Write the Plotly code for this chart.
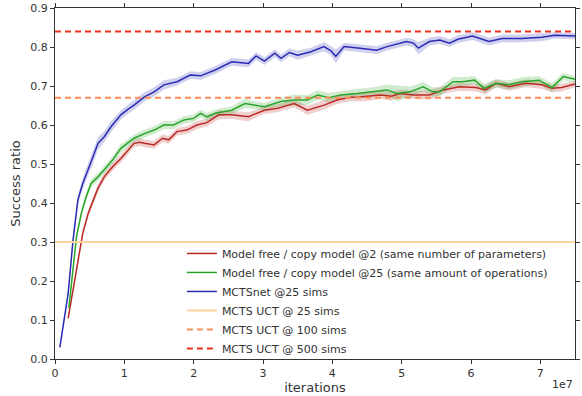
import plotly.graph_objects as go

# x values in units of 1e7 iterations
red_x = [0.19,0.26,0.33,0.40,0.48,0.55,0.62,0.71,0.83,0.95,1.05,1.14,1.22,1.29,1.43,1.55,1.64,1.76,1.90,2.05,2.19,2.36,2.55,2.79,2.88,3.02,3.21,3.45,3.64,3.88,4.07,4.26,4.40,4.55,4.69,4.85,4.98,5.17,5.40,5.60,5.83,6.07,6.21,6.36,6.55,6.79,7.02,7.17,7.31,7.50]
red_y = [0.104,0.177,0.254,0.322,0.374,0.408,0.438,0.467,0.493,0.514,0.536,0.553,0.556,0.553,0.549,0.566,0.562,0.583,0.587,0.600,0.606,0.626,0.626,0.621,0.628,0.638,0.643,0.655,0.638,0.651,0.664,0.671,0.672,0.674,0.677,0.674,0.681,0.677,0.677,0.690,0.698,0.696,0.690,0.707,0.698,0.707,0.703,0.694,0.696,0.705]
red_sd = [0.004,0.006,0.008,0.009,0.010,0.010,0.010,0.010,0.010,0.010,0.010,0.010,0.010,0.010,0.010,0.010,0.010,0.010,0.010,0.010,0.010,0.012,0.010,0.012,0.010,0.010,0.010,0.010,0.012,0.012,0.010,0.010,0.012,0.012,0.010,0.012,0.010,0.010,0.012,0.010,0.010,0.010,0.012,0.010,0.010,0.010,0.010,0.010,0.010,0.008]

green_x = [0.20,0.26,0.31,0.38,0.45,0.52,0.62,0.71,0.83,0.95,1.02,1.14,1.29,1.43,1.57,1.71,1.86,2.00,2.10,2.19,2.31,2.55,2.74,2.88,3.02,3.26,3.45,3.64,3.79,3.95,4.12,4.36,4.60,4.79,4.93,5.12,5.31,5.45,5.55,5.74,5.88,6.05,6.19,6.36,6.55,6.74,6.98,7.17,7.33,7.50]
green_y = [0.130,0.237,0.314,0.374,0.416,0.450,0.467,0.485,0.510,0.540,0.549,0.566,0.578,0.587,0.600,0.600,0.613,0.617,0.630,0.621,0.630,0.638,0.655,0.651,0.647,0.660,0.664,0.664,0.677,0.670,0.677,0.681,0.685,0.690,0.681,0.685,0.698,0.685,0.685,0.711,0.711,0.715,0.694,0.707,0.703,0.711,0.715,0.696,0.724,0.717]
green_sd = [0.004,0.006,0.008,0.009,0.010,0.010,0.010,0.010,0.010,0.012,0.010,0.010,0.010,0.010,0.010,0.010,0.010,0.010,0.010,0.010,0.010,0.010,0.012,0.010,0.010,0.010,0.014,0.012,0.012,0.012,0.010,0.012,0.012,0.014,0.020,0.014,0.012,0.012,0.012,0.012,0.012,0.010,0.012,0.010,0.012,0.012,0.010,0.012,0.010,0.008]

blue_x = [0.07,0.19,0.26,0.33,0.40,0.48,0.55,0.62,0.71,0.81,0.95,1.05,1.14,1.29,1.43,1.57,1.76,1.95,2.10,2.31,2.55,2.79,2.90,3.02,3.17,3.26,3.38,3.50,3.69,3.88,3.98,4.05,4.17,4.40,4.64,4.79,5.07,5.17,5.24,5.40,5.55,5.69,5.81,6.02,6.15,6.26,6.45,6.74,7.02,7.21,7.50]
blue_y = [0.030,0.168,0.305,0.408,0.450,0.485,0.519,0.553,0.570,0.596,0.626,0.640,0.651,0.672,0.685,0.703,0.711,0.728,0.726,0.741,0.762,0.758,0.777,0.764,0.784,0.771,0.786,0.779,0.788,0.801,0.790,0.776,0.801,0.797,0.792,0.801,0.814,0.810,0.797,0.814,0.818,0.810,0.820,0.828,0.820,0.814,0.822,0.822,0.825,0.830,0.828]
blue_sd = [0.004,0.008,0.010,0.012,0.014,0.016,0.018,0.016,0.014,0.014,0.012,0.012,0.012,0.012,0.012,0.012,0.010,0.010,0.010,0.010,0.010,0.010,0.010,0.010,0.010,0.010,0.010,0.012,0.010,0.012,0.012,0.018,0.010,0.010,0.010,0.010,0.010,0.010,0.016,0.010,0.010,0.010,0.010,0.010,0.010,0.010,0.010,0.010,0.010,0.008,0.008]

baseline_x = [0.0, 7.5]
uct25 = 0.30
uct100 = 0.67
uct500 = 0.84

x_ticks = [0, 1, 2, 3, 4, 5, 6, 7]
y_ticks = [0.0, 0.1, 0.2, 0.3, 0.4, 0.5, 0.6, 0.7, 0.8, 0.9]

RED = "#bb2a25"
GREEN = "#2aa52a"
BLUE = "#2b2bb5"
BAND = {RED: "rgba(187,42,37,0.22)", GREEN: "rgba(42,165,42,0.22)", BLUE: "rgba(43,43,181,0.22)"}

fig = go.Figure()

def add_band(xs, ys, sd, color):
    lo = [y - s for y, s in zip(ys, sd)]
    hi = [y + s for y, s in zip(ys, sd)]
    fig.add_trace(go.Scatter(x=xs, y=lo, mode="lines", line=dict(width=0), showlegend=False, hoverinfo="skip"))
    fig.add_trace(go.Scatter(x=xs, y=hi, mode="lines", line=dict(width=0), fill="tonexty",
                             fillcolor=BAND[color], showlegend=False, hoverinfo="skip"))

add_band(red_x, red_y, red_sd, RED)
add_band(green_x, green_y, green_sd, GREEN)
add_band(blue_x, blue_y, blue_sd, BLUE)

fig.add_trace(go.Scatter(x=red_x, y=red_y, mode="lines", line=dict(color=RED, width=1.5),
                         name="Model free / copy model @2 (same number of parameters)"))
fig.add_trace(go.Scatter(x=green_x, y=green_y, mode="lines", line=dict(color=GREEN, width=1.5),
                         name="Model free / copy model @25 (same amount of operations)"))
fig.add_trace(go.Scatter(x=blue_x, y=blue_y, mode="lines", line=dict(color=BLUE, width=1.5),
                         name="MCTSnet @25 sims"))
fig.add_trace(go.Scatter(x=baseline_x, y=[uct25, uct25], mode="lines", line=dict(color="#fdd49e", width=2),
                         name="MCTS UCT @ 25 sims"))
fig.add_trace(go.Scatter(x=baseline_x, y=[uct100, uct100], mode="lines",
                         line=dict(color="#fc8d59", width=2, dash="6px,4px"),
                         name="MCTS UCT @ 100 sims"))
fig.add_trace(go.Scatter(x=baseline_x, y=[uct500, uct500], mode="lines",
                         line=dict(color="#e8321e", width=2, dash="6px,4px"),
                         name="MCTS UCT @ 500 sims"))

axis_common = dict(showgrid=False, zeroline=False, showline=True, linecolor="#333333", linewidth=1,
                   mirror="allticks", ticks="outside", ticklen=4, tickcolor="#333333",
                   tickfont=dict(size=11, color="#333333"))

fig.update_xaxes(range=[0, 7.5], tickvals=x_ticks, ticktext=[str(t) for t in x_ticks],
                 title=dict(text="iterations", font=dict(size=13, color="#333333"), standoff=2),
                 **axis_common)
fig.update_yaxes(range=[0, 0.9], tickvals=y_ticks, ticktext=["%.1f" % t for t in y_ticks],
                 title=dict(text="Success ratio", font=dict(size=13, color="#333333"), standoff=6),
                 **axis_common)

fig.add_annotation(text="1e7", xref="paper", yref="paper", x=1.0, y=0, xanchor="right", yanchor="top",
                   yshift=-17, showarrow=False, font=dict(size=11, color="#333333"))

fig.update_layout(
    width=582, height=396,
    margin=dict(l=55, r=2, t=8, b=37),
    paper_bgcolor="white", plot_bgcolor="white",
    font=dict(family="DejaVu Sans", color="#333333"),
    legend=dict(x=0.244, y=0.342, xanchor="left", yanchor="top", bgcolor="rgba(255,255,255,0)",
                font=dict(size=11, color="#333333"), tracegroupgap=0, traceorder="normal"),
)

fig.write_html("out.html", config={"displayModeBar": False},
               post_script="document.body.style.margin='0px';")
